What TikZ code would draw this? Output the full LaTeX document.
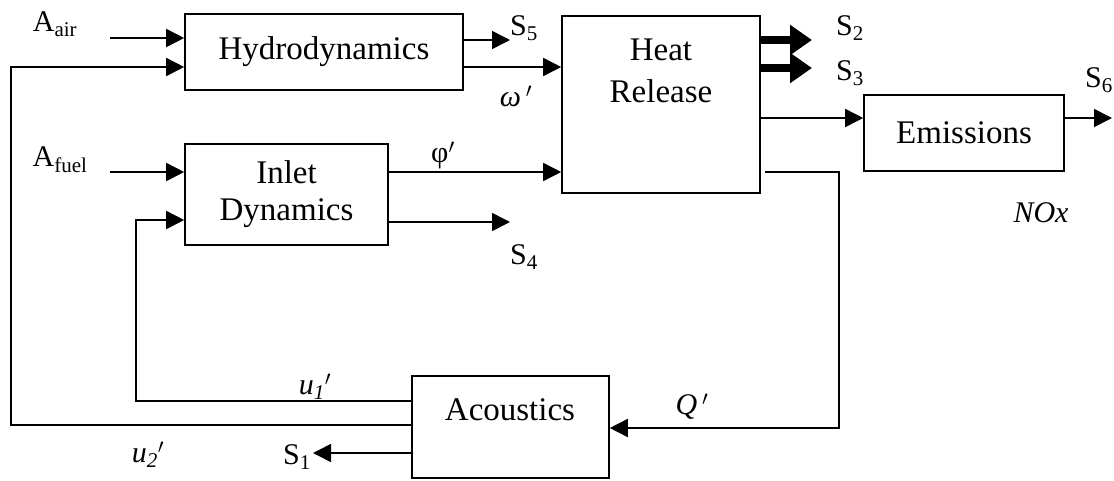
\documentclass[tikz,border=0pt]{standalone}
\usepackage{fontspec}
\setmainfont{Liberation Serif}
\usetikzlibrary{arrows.meta}
\begin{document}
\begin{tikzpicture}[x=1pt,y=-1pt,
  blk/.style={draw, line width=1.6pt, inner sep=0pt, align=center, font=\fontsize{33}{37}\selectfont},
  lbl/.style={inner sep=0pt, font=\fontsize{30}{34}\selectfont},
  txt/.style={inner sep=0pt, align=center, font=\fontsize{33}{42}\selectfont},
  ln/.style={line width=1.6pt},
  arr/.style={line width=1.6pt, -{Triangle[length=18pt,width=18pt]}},
  fatarr/.style={line width=8pt, -{Triangle[length=22pt,width=29pt]}},
]
\useasboundingbox (0,0) rectangle (1114,480);

% blocks
\node[blk, minimum width=278pt, minimum height=76pt] (hyd) at (324,52) {Hydrodynamics};
\node[blk, minimum width=203pt, minimum height=101pt] (inl) at (286.5,194.5) {Inlet\\Dynamics};
\node[blk, minimum width=198pt, minimum height=177pt] (heat) at (661,104.5) {};
\node[txt] (heatT) at (661,71) {Heat\\Release};
\node[blk, minimum width=200pt, minimum height=76pt] (emis) at (964,133) {Emissions};
\node[blk, minimum width=197pt, minimum height=102pt] (acou) at (510.5,427) {};
\node[txt] (acouT) at (510,410) {Acoustics};

% free ends
\coordinate (aairS) at (110,38);
\coordinate (afuelS) at (110,172);
\coordinate (s5E) at (510,40);
\coordinate (s4E) at (510,222);
\coordinate (s2E) at (812,40);
\coordinate (s3E) at (812,68);
\coordinate (s6E) at (1112,118);
\coordinate (s1E) at (313,453);
\coordinate (u1a) at (412,401);
\coordinate (u1b) at (136,401);
\coordinate (u1c) at (136,220);
\coordinate (u2a) at (412,425);
\coordinate (u2b) at (11,425);
\coordinate (u2c) at (11,67);
\coordinate (qa) at (765,172);
\coordinate (qb) at (839,172);
\coordinate (qc) at (839,428);

% connectors
\draw[arr] (aairS) -- (aairS -| hyd.west);
\draw[arr] (afuelS) -- (afuelS -| inl.west);
\draw[arr] (s5E -| hyd.east) -- (s5E);
\draw[arr] (hyd.east |- 0,67) -- (heat.west |- 0,67);
\draw[arr] (inl.east |- 0,172) -- (heat.west |- 0,172);
\draw[arr] (s4E -| inl.east) -- (s4E);
\draw[fatarr] (s2E -| heat.east) -- (s2E);
\draw[fatarr] (s3E -| heat.east) -- (s3E);
\draw[arr] (heat.east |- 0,118) -- (emis.west |- 0,118);
\draw[arr] (emis.east |- s6E) -- (s6E);
\draw[arr] (qa) -- (qb) -- (qc) -- (qc -| acou.east);
\draw[arr] (u1a) -- (u1b) -- (u1c) -- (u1c -| inl.west);
\draw[arr] (u2a) -- (u2b) -- (u2c) -- (u2c -| hyd.west);
\draw[arr] (s1E -| acou.west) -- (s1E);

% labels
\node[lbl] (lAair) at (55,24) {A\textsubscript{air}};
\node[lbl] (lAfuel) at (60,160) {A\textsubscript{fuel}};
\node[lbl] (lS5) at (524,28) {S\textsubscript{5}};
\node[lbl] (lS4) at (524,257) {S\textsubscript{4}};
\node[lbl] (lS2) at (850,28) {S\textsubscript{2}};
\node[lbl] (lS3) at (850,73) {S\textsubscript{3}};
\node[lbl] (lS6) at (1099,80) {S\textsubscript{6}};
\node[lbl] (lS1) at (297,457) {S\textsubscript{1}};
\node[lbl] (lom) at (516,96) {\textit{ω}\,$'$};
\node[lbl] (lphi) at (443,155) {φ$'$};
\node[lbl] (lu1) at (315,387) {\textit{u\textsubscript{1}}$'$};
\node[lbl] (lu2) at (148,455) {\textit{u\textsubscript{2}}$'$};
\node[lbl] (lQ) at (692,407) {\textit{Q}\,$'$};
\node[lbl] (lNOx) at (1041,213) {\textit{NOx}};
\end{tikzpicture}
\end{document}
